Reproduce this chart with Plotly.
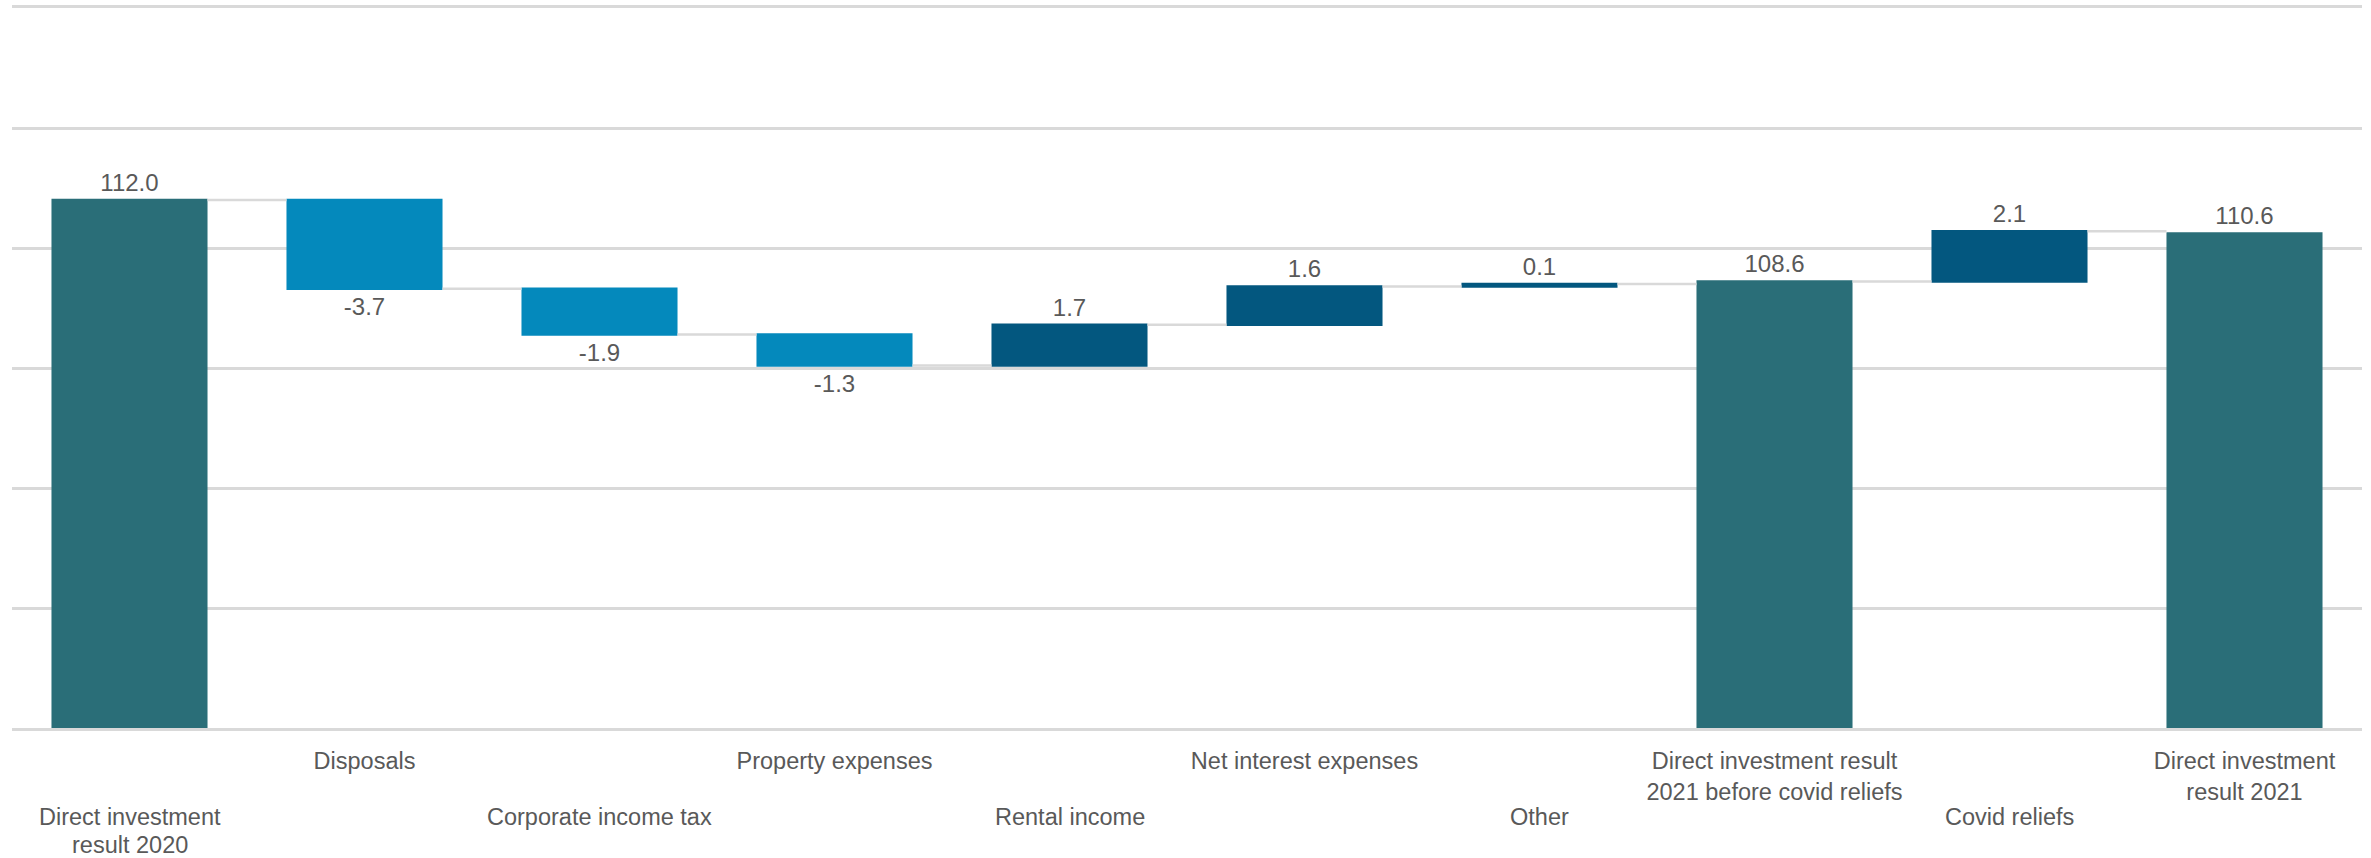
import plotly.graph_objects as go

# Bridge from the 2020 to the 2021 direct investment result
categories = [
    "Direct investment result 2020",
    "Disposals",
    "Corporate income tax",
    "Property expenses",
    "Rental income",
    "Net interest expenses",
    "Other",
    "Direct investment result 2021 before covid reliefs",
    "Covid reliefs",
    "Direct investment result 2021",
]
values = [112.0, -3.7, -1.9, -1.3, 1.7, 1.6, 0.1, 108.6, 2.1, 110.6]
measures = ["absolute", "relative", "relative", "relative", "relative",
            "relative", "relative", "absolute", "relative", "absolute"]
value_labels = ["112.0", "-3.7", "-1.9", "-1.3", "1.7", "1.6", "0.1",
                "108.6", "2.1", "110.6"]

# Axis labels alternate between an upper and a lower row
upper_labels = ["", "Disposals", "", "Property expenses", "",
                "Net interest expenses", "",
                "Direct investment result<br>2021 before covid reliefs",
                "", "Direct investment<br>result 2021"]
lower_labels = [["Direct investment", "result 2020"], [], ["Corporate income tax"],
                [], ["Rental income"], [], ["Other"], [], ["Covid reliefs"], []]

TOTAL = "#2a6e78"
DECREASE = "#0489bc"
INCREASE = "#03577f"
TEXT = "#595959"
GRID = "#d9d9d9"
FONT = "Liberation Sans, Arial, sans-serif"
LABEL_SIZE = 23.5

fig = go.Figure(go.Waterfall(
    x=categories,
    y=values,
    measure=measures,
    text=value_labels,
    textposition="outside",
    textfont=dict(family=FONT, size=24, color=TEXT),
    cliponaxis=False,
    totals=dict(marker=dict(color=TOTAL)),
    decreasing=dict(marker=dict(color=DECREASE)),
    increasing=dict(marker=dict(color=INCREASE)),
    connector=dict(mode="between", line=dict(color=GRID, width=2.5)),
    hoverinfo="skip",
))

# Lower row of category labels, one line at a time for tighter spacing
for cat, lines in zip(categories, lower_labels):
    for i, line in enumerate(lines):
        fig.add_annotation(
            x=cat, xref="x", y=0, yref="paper",
            text=line, showarrow=False,
            xanchor="center", yanchor="middle", yshift=-89 - 27.5 * i,
            font=dict(family=FONT, size=LABEL_SIZE, color=TEXT),
        )

fig.update_layout(
    width=2371,
    height=858,
    margin=dict(l=12, r=9, t=8, b=130),
    plot_bgcolor="white",
    paper_bgcolor="white",
    showlegend=False,
    waterfallgap=0.336,
    font=dict(family=FONT, size=LABEL_SIZE, color=TEXT),
    xaxis=dict(
        tickmode="array",
        tickvals=categories,
        ticktext=upper_labels,
        showgrid=False,
        showline=True,
        mirror=True,
        linecolor=GRID,
        linewidth=2.5,
        zeroline=False,
        ticks="",
        automargin=False,
        ticklabelstandoff=10,
        tickfont=dict(family=FONT, size=LABEL_SIZE, color=TEXT),
    ),
    yaxis=dict(
        range=[90, 120],
        dtick=5,
        tick0=90,
        showticklabels=False,
        showgrid=True,
        gridcolor=GRID,
        gridwidth=2.5,
        zeroline=False,
        showline=False,
    ),
)

fig.write_html("out.html")
